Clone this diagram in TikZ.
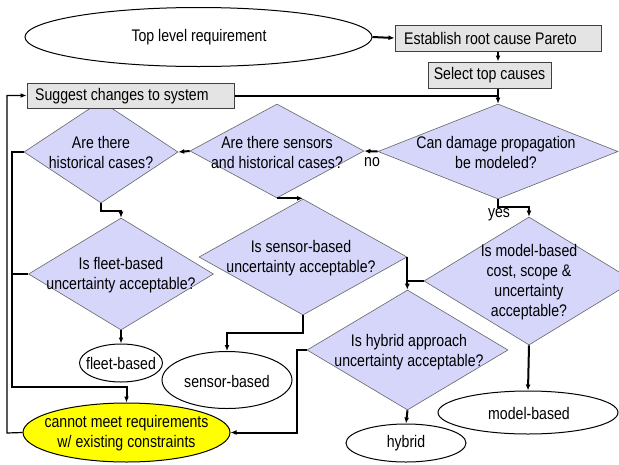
\documentclass[tikz,border=0pt]{standalone}
\usepackage{fontspec}
\setmainfont{Liberation Sans}[FakeStretch=0.84]
\usetikzlibrary{shapes.geometric,arrows.meta}
\definecolor{diafill}{RGB}{213,214,250}
\definecolor{boxgray}{RGB}{228,228,228}
\definecolor{yel}{RGB}{255,255,0}
\begin{document}
\begin{tikzpicture}[x=1pt,y=-1pt,
  lbl/.style={font=\fontsize{16.8pt}{20pt}\selectfont, align=center, inner sep=0pt},
  diam/.style={diamond, draw=black!60, line width=0.6pt, fill=diafill, inner sep=0pt},
  ell/.style={ellipse, draw=black, line width=1pt, inner sep=0pt},
  gbox/.style={rectangle, draw=black!75, line width=1pt, fill=boxgray, inner sep=0pt},
  conn/.style={line width=2pt, -{Latex[length=6pt,width=5pt]}},
  seg/.style={line width=2pt},
  loopline/.style={line width=1.2pt, -{Latex[length=6pt,width=5pt]}}
]
\useasboundingbox (0,0) rectangle (619,464);
\fill[white] (0,0) rectangle (619,464);

% diamonds
\node[diam, minimum width=240pt, minimum height=95pt] (canD) at (498,151.5) {};
\node[diam, minimum width=174pt, minimum height=94pt] (sens) at (277,151) {};
\node[diam, minimum width=154pt, minimum height=102pt] (hist) at (101,152) {};
\node[diam, minimum width=185pt, minimum height=112pt] (fleet) at (121,274) {};
\node[diam, minimum width=208pt, minimum height=116pt] (sensU) at (303,257) {};
\node[diam, minimum width=210pt, minimum height=128pt] (model) at (529,281) {};
\node[diam, minimum width=201pt, minimum height=120pt] (hyb) at (407.5,350) {};

\node[lbl] (canDT) at (496,152) {Can damage propagation\\be modeled?};
\node[lbl] (sensT) at (277,152) {Are there sensors\\and historical cases?};
\node[lbl] (histT) at (101,152) {Are there\\historical cases?};
\node[lbl] (fleetT) at (121,275) {Is fleet-based\\uncertainty acceptable?};
\node[lbl] (sensUT) at (301,258) {Is sensor-based\\uncertainty acceptable?};
\node[lbl] (modelT) at (529,282) {Is model-based\\cost, scope \&\\uncertainty\\acceptable?};
\node[lbl] (hybT) at (409,352) {Is hybrid approach\\uncertainty acceptable?};

% ellipses
\node[ell, minimum width=347pt, minimum height=59pt] (top) at (198.5,37) {};
\node[lbl] (topT) at (199,37.5) {Top level requirement};
\node[ell, minimum width=83pt, minimum height=38pt] (fleetE) at (121,363) {};
\node[lbl] (fleetET) at (121,363.5) {fleet-based};
\node[ell, minimum width=130pt, minimum height=57pt] (sensorE) at (227,380) {};
\node[lbl] (sensorET) at (227,381) {sensor-based};
\node[ell, minimum width=180pt, minimum height=43pt] (modelE) at (528,412.5) {};
\node[lbl] (modelET) at (529,413) {model-based};
\node[ell, minimum width=120pt, minimum height=38pt] (hybE) at (406,443) {};
\node[lbl] (hybET) at (406,443.5) {hybrid};
\node[ell, fill=yel, minimum width=207pt, minimum height=59pt] (cannot) at (126.5,432.5) {};
\node[lbl] (cannotT) at (126.5,433.5) {cannot meet requirements\\w/ existing constraints};

% boxes
\node[gbox, minimum width=206pt, minimum height=26pt] (est) at (498,38) {};
\node[lbl, anchor=west] (estT) at (404,38.5) {Establish root cause Pareto};
\node[gbox, minimum width=123pt, minimum height=26pt] (sel) at (489.5,75) {};
\node[lbl] (selT) at (489.5,75.5) {Select top causes};
\node[gbox, minimum width=207pt, minimum height=25pt] (sug) at (130.5,95.5) {};
\node[lbl, anchor=west] (sugT) at (35,96) {Suggest changes to system};

% labels
\node[lbl] (lno) at (372,162) {no};
\node[lbl] (lyes) at (499,215) {yes};

% connectors
\draw[conn] (top.east) -- (est.west);
\draw[conn] (est.south) -- (est.south |- sel.north);
\draw[conn] (sel.south -| canD.north) -- (canD.north);
\draw[seg] (sug.east) -- (sug.east -| canD.north);
\draw[conn] (canD.west) -- (sens.east);
\draw[conn] (sens.west) -- (hist.east);
\draw[conn] (hist.south) -- ++(0,8) -| (fleet.north);
\draw[conn] (sens.south) -- (sens.south -| sensU.north);
\draw[conn] (canD.south) -- ++(0,8) -| (model.north);
\draw[conn] (fleet.south) -- (fleetE.north);
\draw[conn] (sensU.south) -- ++(0,18) -| (sensorE.north);
\draw[conn] (sensU.east) -- (sensU.east |- hyb.north);
\draw[seg] (model.west) -- (model.west -| sensU.east);
\draw[conn] (model.south) -- (modelE.north);
\draw[conn] (hyb.south) -- (hybE.north);
\draw[conn] (hyb.west) -- ++(-10,0) |- (cannot.east);
\coordinate (lft) at (12,387);
\draw[conn] (hist.west) -- (hist.west -| lft) -- (lft) -| (cannot.north);
\draw[seg] (fleet.west) -- (fleet.west -| lft);
\coordinate (outer) at (7,433);
\draw[loopline] (cannot.west) -- (outer) |- (sug.west);
\end{tikzpicture}
\end{document}
